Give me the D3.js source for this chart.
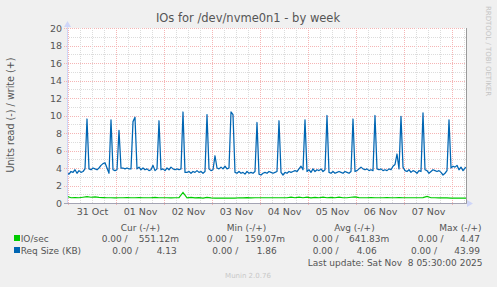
<!DOCTYPE html>
<html>
<head>
<meta charset="utf-8">
<script src="https://cdn.jsdelivr.net/npm/d3@7"></script>
<style>
  body { margin: 0; background: #f0f0f0; }
  text { font-family: "DejaVu Sans", sans-serif; fill: #555; }
</style>
</head>
<body>
<div id="chart"></div>
<script>
// time axis: one blue sample per hour, one green sample every 2 hours
const startTime = "2025-10-30T23:30";
const endTime = "2025-11-08T07:30";
const reqStepHours = 1;
const ioStepHours = 2;

// Req Size (KB), write side
const reqSize = [
  3.4,3.3,3.6,3.5,3.8,3.4,3.7,3.5,3.6,3.9,
  9.6,
  3.9,3.8,4.0,3.9,3.8,4.0,4.3,4.5,4.6,4.0,3.4,
  9.5,
  3.8,3.7,3.8,
  8.3,
  4.0,4.0,3.9,4.0,3.9,3.9,
  9.3,9.8,
  3.9,4.1,3.8,4.0,3.8,3.9,3.7,3.8,4.3,3.7,3.9,
  9.4,
  3.8,3.9,3.7,4.0,3.8,4.1,3.9,3.8,3.9,3.8,3.9,
  10.4,
  3.5,3.5,3.6,3.4,3.6,3.5,3.7,3.5,3.6,3.4,3.6,
  10.1,
  3.9,3.7,3.8,
  5.4,
  4.0,3.9,4.1,3.9,4.2,3.9,4.0,
  10.4,10.1,
  3.5,3.4,3.6,3.4,3.5,3.3,3.6,3.4,3.5,3.4,3.6,
  9.2,
  3.3,3.2,3.4,3.5,3.4,3.6,3.5,3.4,3.5,3.6,
  9.4,
  3.5,3.2,3.5,3.4,3.6,3.5,3.6,3.7,3.6,3.9,4.2,3.8,
  9.5,
  3.6,3.8,3.5,3.9,3.6,3.8,3.7,3.9,3.6,3.8,
  10.0,
  3.5,3.4,3.6,3.4,3.5,3.6,3.5,3.4,3.6,3.5,3.4,3.6,
  9.6,
  3.6,3.7,3.9,4.1,3.9,3.8,3.9,3.7,3.8,3.7,
  10.0,
  3.9,3.8,3.9,3.7,3.8,3.7,3.9,3.8,4.2,4.4,
  5.6,3.9,9.9,
  4.1,3.7,3.6,3.8,3.5,3.7,3.6,3.4,3.7,3.6,
  10.3,
  3.8,3.7,3.4,3.6,3.8,3.7,3.6,3.7,3.5,3.2,3.4,3.7,
  9.5,
  4.0,4.2,4.1,4.3,3.8,4.1,3.7,4.0,4.13
];

// IO/sec, write side
const ioSec = [
  0.75,0.6,0.62,0.6,0.66,0.72,0.66,0.7,0.64,0.62,
  0.6,0.6,0.58,0.6,0.6,0.62,0.6,0.6,0.63,0.6,
  0.6,0.6,0.65,0.6,0.6,0.6,0.58,0.6,0.62,1.2,
  0.6,0.64,0.58,0.62,0.56,0.64,0.58,0.55,0.55,0.55,
  0.56,0.55,0.55,0.6,0.58,0.62,0.58,0.6,0.6,0.6,
  0.6,0.6,0.6,0.6,0.6,0.6,0.66,0.6,0.68,0.6,
  0.66,0.58,0.64,0.6,0.68,0.6,0.64,0.6,0.66,0.6,
  0.6,0.66,0.7,0.62,0.6,0.6,0.62,0.6,0.6,0.6,
  0.62,0.6,0.6,0.62,0.6,0.6,0.6,0.6,0.6,0.62,
  0.75,0.6,0.6,0.58,0.6,0.58,0.56,0.55,0.55,0.55,
  0.55
];

const yTicks = [0, 2, 4, 6, 8, 10, 12, 14, 16, 18, 20];

const legendHeaders = ["Cur (-/+)", "Min (-/+)", "Avg (-/+)", "Max (-/+)"];
const seriesNames = ["IO/sec", "Req Size (KB)"];
const seriesColors = ["#00cc00", "#0066b3"];
const legendValues = [
  ["551.12m", "159.07m", "641.83m", "4.47"],
  ["4.13", "1.86", "4.06", "43.99"]
];
const readValue = "0.00 /";

const title = "IOs for /dev/nvme0n1 - by week";
const yLabel = "Units read (-) / write (+)";
const lastUpdate = "Last update: Sat Nov  8 05:30:00 2025";
const sideNote = "RRDTOOL / TOBI OETIKER";
const footer = "Munin 2.0.76";

const W = 497, H = 287;
const plot = {left: 67, right: 467, top: 28, bottom: 203};

const svg = d3.select("#chart").append("svg")
  .attr("width", W).attr("height", H);

svg.append("rect").attr("width", W).attr("height", H).attr("fill", "#f0f0f0");

const parse = d3.utcParse("%Y-%m-%dT%H:%M");
const t0 = parse(startTime), t1 = parse(endTime);

const x = d3.scaleUtc().domain([t0, t1]).range([plot.left, plot.right]);
const y = d3.scaleLinear().domain([0, 20]).range([plot.bottom, plot.top]);

const reqData = reqSize.map((v, i) => ({t: d3.utcHour.offset(t0, i * reqStepHours), v}));
const ioData = ioSec.map((v, i) => ({t: d3.utcHour.offset(t0, i * ioStepHours), v}));

// canvas
svg.append("rect")
  .attr("x", plot.left).attr("y", plot.top)
  .attr("width", 399).attr("height", plot.bottom - plot.top)
  .attr("fill", "#ffffff");

const grid = svg.append("g").attr("shape-rendering", "crispEdges");
const majorColor = "#f5b5b5", minorColor = "#dcdcdc";

// horizontal grid
d3.range(1, 21).forEach(v => {
  const major = v % 2 === 0;
  grid.append("line")
    .attr("x1", major ? plot.left - 3 : plot.left).attr("x2", 466)
    .attr("y1", Math.round(y(v)) + 0.5).attr("y2", Math.round(y(v)) + 0.5)
    .attr("stroke", major ? majorColor : minorColor)
    .attr("stroke-dasharray", "1,1");
});

// vertical grid
d3.utcHour.every(6).range(t0, t1).forEach(t => {
  const major = t.getUTCHours() === 0;
  grid.append("line")
    .attr("x1", Math.round(x(t)) + 0.5).attr("x2", Math.round(x(t)) + 0.5)
    .attr("y1", plot.top).attr("y2", major ? plot.bottom + 3 : plot.bottom)
    .attr("stroke", major ? majorColor : minorColor)
    .attr("stroke-dasharray", "1,1");
});

// y axis labels
const yAxis = svg.append("g")
  .attr("transform", `translate(${plot.left - 5},0)`)
  .call(d3.axisLeft(y).tickValues(yTicks).tickSize(0).tickPadding(0));
yAxis.select(".domain").remove();
yAxis.selectAll("text").style("font-size", "9.5px").attr("fill", "#555")
  .style("font-family", "DejaVu Sans");

// x axis labels at noon
const noons = d3.utcDay.range(t0, t1).map(d => d3.utcHour.offset(d, 12))
  .filter(d => x(d) < 460);
const xAxis = svg.append("g")
  .attr("transform", `translate(0,${plot.bottom + 5})`)
  .call(d3.axisBottom(x).tickValues(noons).tickFormat(d3.utcFormat("%d %b"))
    .tickSize(0).tickPadding(0));
xAxis.select(".domain").remove();
xAxis.selectAll("text").style("font-size", "9.5px").attr("fill", "#555")
  .style("font-family", "DejaVu Sans");

// lines
svg.append("clipPath").attr("id", "clip").append("rect")
  .attr("x", plot.left).attr("y", plot.top - 2)
  .attr("width", 399).attr("height", plot.bottom - plot.top + 2);

const line = d3.line().x(d => x(d.t)).y(d => y(d.v));

const lines = svg.append("g").attr("clip-path", "url(#clip)");
lines.append("path").datum(ioData)
  .attr("fill", "none").attr("stroke", seriesColors[0]).attr("stroke-width", 1.2)
  .attr("d", line);
lines.append("path").datum(reqData)
  .attr("fill", "none").attr("stroke", seriesColors[1]).attr("stroke-width", 1.25)
  .attr("stroke-linejoin", "round")
  .attr("d", line);

// frame lines
svg.append("line")
  .attr("x1", plot.left - 3).attr("x2", 467)
  .attr("y1", plot.bottom + 0.5).attr("y2", plot.bottom + 0.5)
  .attr("stroke", "#a4a4b4");
svg.append("line")
  .attr("x1", 466.5).attr("x2", 466.5)
  .attr("y1", plot.top).attr("y2", plot.bottom)
  .attr("stroke", "#9a9a9a");
svg.append("line")
  .attr("x1", plot.left + 0.5).attr("x2", plot.left + 0.5)
  .attr("y1", plot.top - 4).attr("y2", plot.bottom)
  .attr("stroke", "#cfd6f8");

// arrows
svg.append("path")
  .attr("d", `M${plot.left - 3},${plot.top - 1}L${plot.left + 4},${plot.top - 1}L${plot.left + 0.5},${plot.top - 7}Z`)
  .attr("fill", "#cfd6f8");
svg.append("path")
  .attr("d", `M467,${plot.bottom - 3}L467,${plot.bottom + 4}L473,${plot.bottom + 0.5}Z`)
  .attr("fill", "#cfd6f8");

// title
svg.append("text").attr("x", 248).attr("y", 22).attr("text-anchor", "middle")
  .style("font-size", "11.5px").text(title);

// y label
svg.append("text")
  .attr("transform", "translate(14,115) rotate(-90)")
  .attr("text-anchor", "middle")
  .style("font-size", "9.6px").text(yLabel);

// side note
svg.append("text")
  .attr("transform", "translate(486,51) rotate(90)")
  .attr("text-anchor", "middle")
  .style("font-size", "7px").style("fill", "#c4c4c4").text(sideNote);

// legend
const lg = svg.append("g").style("font-size", "9px");
const headerX = [120.7, 226.7, 334.3, 439.3];
legendHeaders.forEach((h, i) => {
  lg.append("text").attr("x", headerX[i]).attr("y", 231).text(h);
});

const rowY = [242, 254];
const readStartX = [[101.7, 206.7, 312.7, 417.7], [112.3, 212.3, 312.7, 411]];
const valueEndX = [[179, 285, 389.3, 480], [176.7, 276.7, 376.7, 480]];
seriesNames.forEach((name, r) => {
  lg.append("rect").attr("x", 14).attr("y", rowY[r] - 7).attr("width", 6).attr("height", 6)
    .attr("fill", seriesColors[r]);
  lg.append("text").attr("x", 20.7).attr("y", rowY[r]).text(name);
  legendValues[r].forEach((v, c) => {
    lg.append("text").attr("x", readStartX[r][c]).attr("y", rowY[r]).text(readValue);
    lg.append("text").attr("x", valueEndX[r][c]).attr("y", rowY[r])
      .attr("text-anchor", "end").text(v);
  });
});
lg.append("text").attr("x", 307.7).attr("y", 266).style("white-space", "pre")
  .text(lastUpdate);

svg.append("text").attr("x", 248).attr("y", 278).attr("text-anchor", "middle")
  .style("font-size", "7px").style("fill", "#c8c8c8").text(footer);
</script>
</body>
</html>
